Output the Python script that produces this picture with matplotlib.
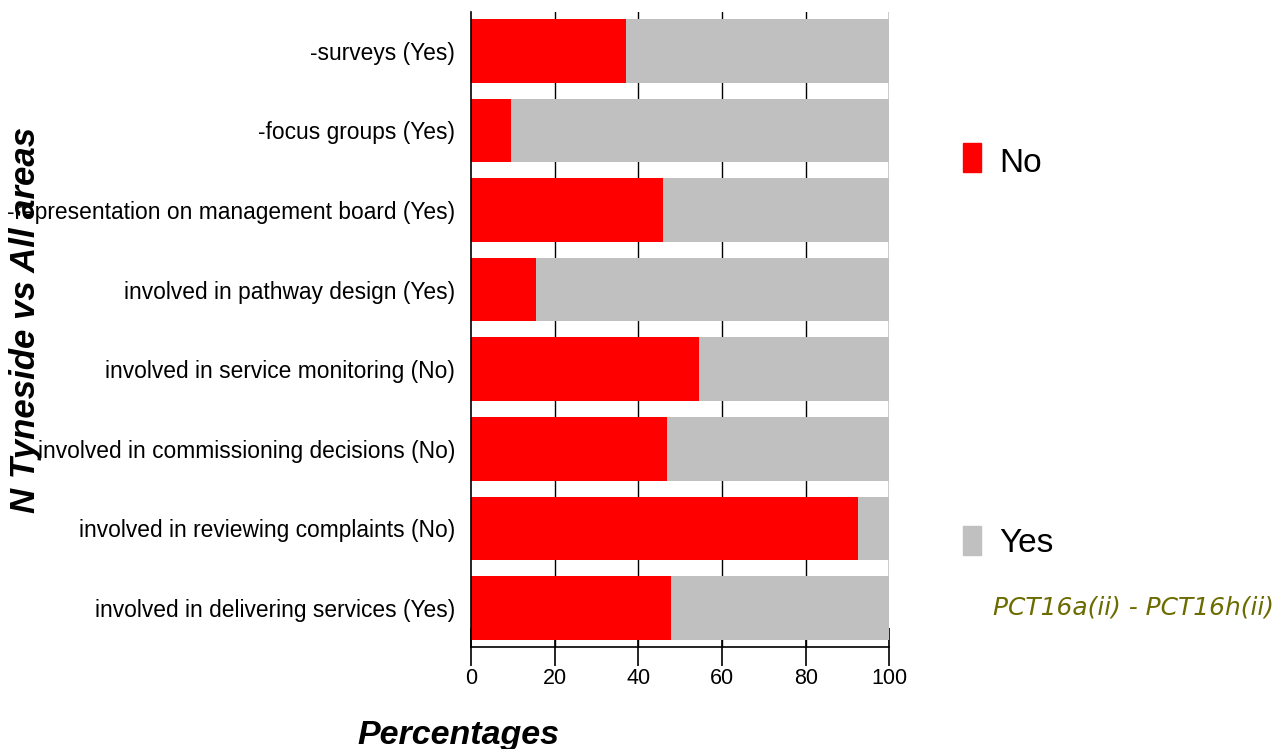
import numpy as np
import matplotlib.pyplot as plt
from matplotlib.patches import Rectangle

plt.rcParams['font.family'] = ['Liberation Sans', 'DejaVu Sans']

# categories top to bottom
categories = [
    "-surveys (Yes)",
    "-focus groups (Yes)",
    "-representation on management board (Yes)",
    "involved in pathway design (Yes)",
    "involved in service monitoring (No)",
    "involved in commissioning decisions (No)",
    "involved in reviewing complaints (No)",
    "involved in delivering services (Yes)",
]
no_pct = [37.0, 9.6, 46.0, 15.5, 54.4, 46.9, 92.4, 47.7]
yes_pct = [100 - v for v in no_pct]
xticks = [0, 20, 40, 60, 80, 100]

red = '#ff0000'
grey = '#c0c0c0'

fig = plt.figure(figsize=(12.87, 7.49), dpi=100)
ax = fig.add_axes([0.366, 0.1362, 0.325, 0.848])

y = np.arange(len(categories))
ax.barh(y, no_pct, height=0.8, color=red, zorder=2)
ax.barh(y, yes_pct, left=no_pct, height=0.8, color=grey, zorder=2)

ax.set_xlim(0, 100)
ax.set_ylim(7.49, -0.49)
ax.set_yticks(y)
ax.set_yticklabels(categories, fontsize=16.4)
ax.tick_params(axis='y', length=0, pad=11.5)
ax.set_xticks(xticks)
ax.set_xticklabels([str(t) for t in xticks], fontsize=15.5)
ax.tick_params(axis='x', direction='inout', length=28, width=1.2, pad=1)

# vertical guide lines showing through the gaps between bars
for t in xticks[1:]:
    ax.axvline(t, color='black', lw=1, zorder=1)

for s in ['top', 'right']:
    ax.spines[s].set_visible(False)
ax.spines['left'].set_linewidth(1.2)
ax.spines['bottom'].set_linewidth(1.2)

fig.text(0.356, 0.018, "Percentages", fontsize=24.5, fontweight='bold', fontstyle='italic',
         ha='center', va='center')
fig.text(0.02, 0.573, "N Tyneside vs All areas", fontsize=25, fontweight='bold', fontstyle='italic',
         rotation=90, ha='center', va='center')

# legend
fig.patches.append(Rectangle((963 / 1287, 1 - 172 / 749), 18 / 1287, 29 / 749,
                             transform=fig.transFigure, color=red))
fig.text(999 / 1287, 1 - 164 / 749, "No", fontsize=24, va='center', ha='left')
fig.patches.append(Rectangle((963 / 1287, 1 - 555 / 749), 18 / 1287, 29 / 749,
                             transform=fig.transFigure, color=grey))
fig.text(999 / 1287, 1 - 544 / 749, "Yes", fontsize=24, va='center', ha='left')
fig.text(993 / 1287, 1 - 608 / 749, "PCT16a(ii) - PCT16h(ii)", fontsize=17.9,
         fontstyle='italic', color='#6b6b00', family='DejaVu Sans', va='center', ha='left')

fig.savefig('out.png', dpi=100)
